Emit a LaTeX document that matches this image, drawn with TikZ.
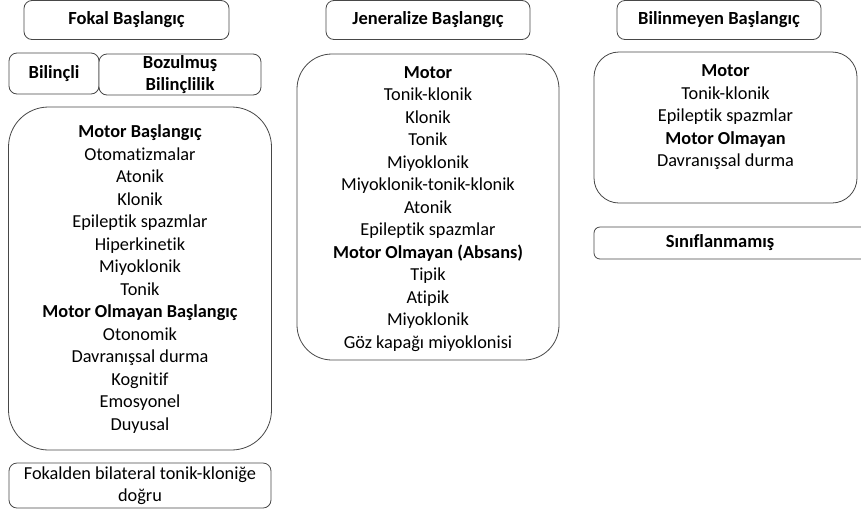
\documentclass[tikz,border=0pt]{standalone}
\usepackage{fontspec}
\setmainfont{Carlito}[Ligatures=NoCommon]
\begin{document}
\begin{tikzpicture}[x=1pt,y=-1pt,
  boxline/.style={draw=black!72,line width=0.8pt,fill=white},
  smallbox/.style={boxline,rounded corners=8pt,inner sep=0pt,align=center},
  bigbox/.style={boxline,inner sep=0pt},
  txt/.style={align=center,inner sep=0pt,font=\fontsize{18.3}{22.5}\selectfont},
  hdr/.style={font=\fontsize{18.5}{21.5}\selectfont\bfseries}
]
\useasboundingbox (0,0) rectangle (861,512);
% headers
\node[smallbox,hdr,minimum width=205,minimum height=39] (fokalh) at (126.5,20) {Fokal Başlangıç};
\node[smallbox,hdr,minimum width=204,minimum height=39] (jenh) at (428,20) {Jeneralize Başlangıç};
\node[smallbox,hdr,minimum width=204,minimum height=39] (unkh) at (719,20) {Bilinmeyen Başlangıç};
% awareness
\node[smallbox,hdr,minimum width=90,minimum height=41] (bil) at (54,73.5) {Bilinçli};
\node[smallbox,hdr,minimum width=162,minimum height=41] (boz) at (180,74.5) {Bozulmuş\\Bilinçlilik};
% big boxes
\node[bigbox,rounded corners=40pt,minimum width=263,minimum height=343] (fokalbox) at (140,278.5) {};
\node[txt] (fokaltxt) at (140,279) {\textbf{Motor Başlangıç}\\Otomatizmalar\\Atonik\\Klonik\\Epileptik spazmlar\\Hiperkinetik\\Miyoklonik\\Tonik\\\textbf{Motor Olmayan Başlangıç}\\Otonomik\\Davranışsal durma\\Kognitif\\Emosyonel\\Duyusal};
\node[bigbox,rounded corners=35pt,minimum width=262,minimum height=306] (jenbox) at (428,207) {};
\node[txt] (jentxt) at (428,209) {\textbf{Motor}\\Tonik-klonik\\Klonik\\Tonik\\Miyoklonik\\Miyoklonik-tonik-klonik\\Atonik\\Epileptik spazmlar\\\textbf{Motor Olmayan (Absans)}\\Tipik\\Atipik\\Miyoklonik\\Göz kapağı miyoklonisi};
\node[bigbox,rounded corners=25pt,minimum width=263,minimum height=151] (unkbox) at (725.5,127.5) {};
\node[txt] (unktxt) at (725.5,117.5) {\textbf{Motor}\\Tonik-klonik\\Epileptik spazmlar\\\textbf{Motor Olmayan}\\Davranışsal durma};
% bottom boxes
\node[smallbox,txt,boxline,minimum width=262,minimum height=45] (f2b) at (140,485.5) {Fokalden bilateral tonik-kloniğe\\doğru};
\node[smallbox,hdr,rounded corners=6pt,minimum width=280,minimum height=32] (snf) at (734,243) {\hspace*{-28pt}Sınıflanmamış};
\end{tikzpicture}
\end{document}
